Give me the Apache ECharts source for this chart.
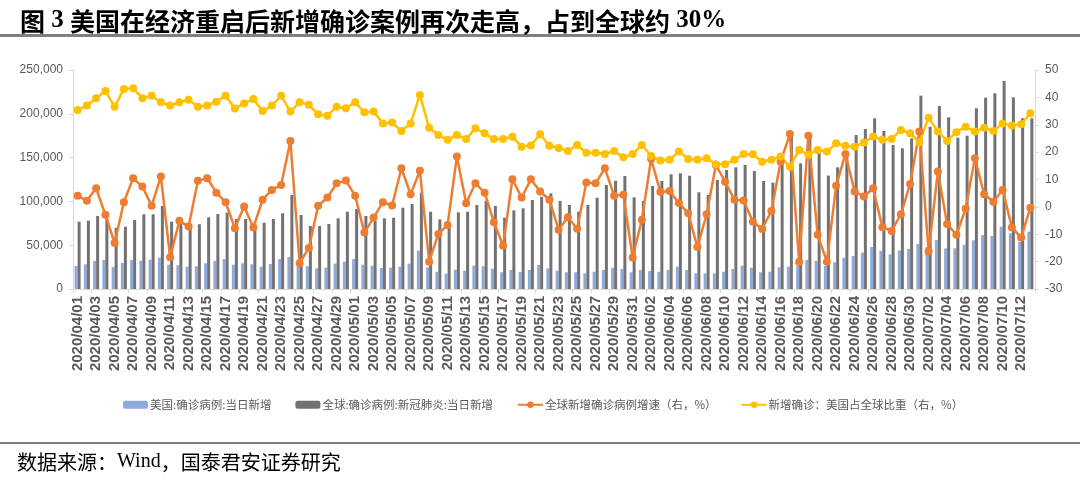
<!DOCTYPE html>
<html>
<head>
<meta charset="utf-8">
<script src="https://cdn.jsdelivr.net/npm/echarts@6/dist/echarts.min.js"></script>
<style>
html,body{margin:0;padding:0;background:#fff;}
#c{width:1080px;height:480px;}
</style>
</head>
<body>
<div id="c"></div>
<script>
var categories = [
'2020/04/01','2020/04/02','2020/04/03','2020/04/04','2020/04/05','2020/04/06','2020/04/07','2020/04/08','2020/04/09','2020/04/10',
'2020/04/11','2020/04/12','2020/04/13','2020/04/14','2020/04/15','2020/04/16','2020/04/17','2020/04/18','2020/04/19','2020/04/20',
'2020/04/21','2020/04/22','2020/04/23','2020/04/24','2020/04/25','2020/04/26','2020/04/27','2020/04/28','2020/04/29','2020/04/30',
'2020/05/01','2020/05/02','2020/05/03','2020/05/04','2020/05/05','2020/05/06','2020/05/07','2020/05/08','2020/05/09','2020/05/10',
'2020/05/11','2020/05/12','2020/05/13','2020/05/14','2020/05/15','2020/05/16','2020/05/17','2020/05/18','2020/05/19','2020/05/20',
'2020/05/21','2020/05/22','2020/05/23','2020/05/24','2020/05/25','2020/05/26','2020/05/27','2020/05/28','2020/05/29','2020/05/30',
'2020/05/31','2020/06/01','2020/06/02','2020/06/03','2020/06/04','2020/06/05','2020/06/06','2020/06/07','2020/06/08','2020/06/09',
'2020/06/10','2020/06/11','2020/06/12','2020/06/13','2020/06/14','2020/06/15','2020/06/16','2020/06/17','2020/06/18','2020/06/19',
'2020/06/20','2020/06/21','2020/06/22','2020/06/23','2020/06/24','2020/06/25','2020/06/26','2020/06/27','2020/06/28','2020/06/29',
'2020/06/30','2020/07/01','2020/07/02','2020/07/03','2020/07/04','2020/07/05','2020/07/06','2020/07/07','2020/07/08','2020/07/09',
'2020/07/10','2020/07/11','2020/07/12','2020/07/13'
];

var usNew = [
26300,28200,32000,33100,25100,29700,33100,32300,33500,35800,
27700,27100,25500,25900,29300,32000,34200,27700,29300,28200,
25500,28500,34200,36500,25500,26000,23600,24300,28900,31200,
34200,27700,26600,24000,24300,25500,28900,43700,24800,19700,
17500,22000,20900,26600,25900,23200,19100,21700,19400,21700,
27400,23600,20900,19100,19100,17900,19700,21700,24300,22800,
19100,21700,20500,19700,21700,25500,21700,17900,17900,17900,
19700,22800,26600,24300,19100,19700,24800,25500,26300,33100,
32200,26300,30500,35700,37700,41500,47900,43400,39600,44000,
45700,51400,48000,55900,46300,46500,50500,55600,61600,60500,
71100,63600,54000,65400
];

var globalNew = [
76800,78000,83300,81000,70000,71100,78800,85300,85300,94800,
76800,74500,69500,73900,81900,85600,87100,79900,79900,73500,
75700,79900,86400,107300,84500,71900,71900,74200,80700,88200,
91300,83300,77600,80700,81400,92800,97000,109900,88200,79500,
71100,87500,88200,95900,100800,94800,81400,89800,92100,101600,
105300,109200,100500,95900,88200,95900,104200,118700,123600,129000,
104700,100500,117600,123300,130900,132100,129300,110400,107300,124400,
135900,138900,141600,134700,123300,121400,146100,178000,143500,177000,
155000,129500,138900,156700,175800,182700,194900,180400,164400,160600,
172000,220700,185300,208900,196000,172700,175000,206300,218400,223400,
237500,218800,194900,194900
];

var globalGrowth = [
4.1,2.2,6.8,-2.9,-13.2,1.7,10.5,7.4,0.4,11.1,
-18.4,-5.1,-7.2,9.5,10.5,5.2,1.7,-7.8,0.1,-7.5,
2.6,6.2,8.0,24.1,-20.6,-15.0,0.4,3.4,8.6,9.6,
4.1,-9.4,-3.9,1.7,0.5,14.1,4.6,13.2,-20.0,-9.9,
-6.6,18.4,1.3,8.6,5.2,-5.6,-14.2,10.1,3.4,10.1,
5.6,2.6,-8.4,-3.8,-8.0,8.9,8.6,14.1,4.1,4.4,
-18.5,-4.7,17.5,5.4,5.8,1.4,-2.3,-14.7,-2.7,15.3,
9.2,2.6,2.3,-5.4,-8.1,-1.5,16.5,26.6,-20.1,26.0,
-10.2,-20.0,7.7,19.3,5.6,3.8,6.8,-7.4,-8.8,-2.7,
8.4,27.5,-16.3,12.9,-6.3,-10.2,-0.7,17.8,4.6,1.9,
6.2,-7.5,-11.2,-0.3
];

var usShare = [
35.4,37.0,39.7,42.3,36.6,43.1,43.3,39.7,40.6,38.2,
37.0,38.2,39.1,36.6,37.0,38.4,40.6,35.9,37.8,39.4,
35.0,37.0,40.6,34.8,38.2,37.3,33.8,33.3,36.6,36.0,
38.2,34.6,34.8,30.5,30.8,27.7,30.5,40.9,28.9,26.3,
24.5,26.3,24.8,28.7,26.9,24.8,24.8,25.6,22.0,22.4,
26.5,22.3,21.5,20.4,22.6,19.8,19.8,19.3,20.4,18.1,
19.3,22.6,18.6,16.9,17.2,20.2,17.5,17.2,17.8,15.6,
15.6,17.2,19.3,19.2,16.5,17.2,18.4,14.7,20.8,19.0,
20.8,20.2,23.2,22.3,22.0,23.5,25.7,24.5,24.8,28.1,
26.9,23.6,32.6,27.5,24.1,27.3,29.3,27.5,28.9,27.7,
30.5,29.7,30.2,34.2
];

var seriesNames = ['美国:确诊病例:当日新增','全球:确诊病例:新冠肺炎:当日新增','全球新增确诊病例增速（右，%）','新增确诊：美国占全球比重（右，%）'];

var chart = echarts.init(document.getElementById('c'), null, {renderer:'canvas'});
var axisGray = '#d9d9d9';
var labelGray = '#595959';
var cjk = '"Noto Sans CJK SC", sans-serif';

var option = {
  backgroundColor: '#fff',
  animation: false,
  title: {
    left: 15, top: 0,
    text: '{a|图}{b|\u00a03\u00a0}{a|美国在经济重启后新增确诊案例再次走高，占到全球约}{b|\u00a030%}',
    textStyle: {
      rich: {
        a: {fontFamily: cjk, fontSize: 25, fontWeight: 'bold', color: '#000', lineHeight: 32},
        b: {fontFamily: '"Liberation Serif", serif', fontSize: 25, fontWeight: 'bold', color: '#000', lineHeight: 32}
      }
    }
  },
  graphic: [
    {type: 'rect', left: 0, top: 34, shape: {width: 1080, height: 3}, style: {fill: '#808080'}},
    {type: 'rect', left: 0, top: 442, shape: {width: 1080, height: 2}, style: {fill: '#808080'}},
    {type: 'text', left: 17, top: 452,
      style: {
        text: '{a|数据来源：}{b|Wind}{a|，国泰君安证券研究}',
        rich: {
          a: {fontFamily: cjk, fontSize: 20, fill: '#000'},
          b: {fontFamily: '"Liberation Serif", serif', fontSize: 20, fill: '#000'}
        }
      }
    }
  ],
  legend: {
    left: 118, top: 394, width: 960,
    itemWidth: 25, itemHeight: 8, itemGap: 24,
    textStyle: {fontFamily: cjk, fontSize: 11.5, color: labelGray, padding: [0,0,0,-3]},
    data: seriesNames
  },
  grid: {left: 73, right: 45, top: 70, bottom: 191, containLabel: false},
  xAxis: {
    type: 'category',
    data: categories,
    boundaryGap: true,
    axisLine: {lineStyle: {color: axisGray}},
    axisTick: {show: true, interval: 1, length: 4, lineStyle: {color: axisGray}},
    axisLabel: {interval: 1, rotate: 90, fontSize: 15, fontWeight: 'bold', color: labelGray, margin: 7, fontFamily: '"Liberation Sans", Arial, sans-serif'}
  },
  yAxis: [
    {
      type: 'value', min: 0, max: 250000, interval: 50000,
      axisLine: {show: true, lineStyle: {color: axisGray}},
      axisTick: {show: true, length: 4, lineStyle: {color: axisGray}},
      splitLine: {show: false},
      axisLabel: {fontSize: 12, color: labelGray, margin: 10, fontFamily: '"Liberation Sans", Arial, sans-serif',
        formatter: function (v) { return v.toString().replace(/\B(?=(\d{3})+(?!\d))/g, ','); }}
    },
    {
      type: 'value', min: -30, max: 50, interval: 10,
      axisLine: {show: true, lineStyle: {color: axisGray}},
      axisTick: {show: true, length: 4, lineStyle: {color: axisGray}},
      splitLine: {show: false},
      axisLabel: {fontSize: 12, color: labelGray, margin: 10, fontFamily: '"Liberation Sans", Arial, sans-serif'}
    }
  ],
  series: [
    {name: seriesNames[0], type: 'bar', yAxisIndex: 0, data: usNew, barWidth: 3, barGap: '0%',
      itemStyle: {color: '#8eaadb'}},
    {name: seriesNames[1], type: 'bar', yAxisIndex: 0, data: globalNew, barWidth: 3, barGap: '0%',
      itemStyle: {color: '#767171'}},
    {name: seriesNames[2], type: 'line', yAxisIndex: 1, data: globalGrowth,
      symbol: 'circle', symbolSize: 8, showAllSymbol: true,
      lineStyle: {color: '#ed7d31', width: 2.5}, itemStyle: {color: '#ed7d31'}},
    {name: seriesNames[3], type: 'line', yAxisIndex: 1, data: usShare,
      symbol: 'circle', symbolSize: 8, showAllSymbol: true,
      lineStyle: {color: '#ffc000', width: 2.5}, itemStyle: {color: '#ffc000'}}
  ]
};
chart.setOption(option);
</script>
</body>
</html>
